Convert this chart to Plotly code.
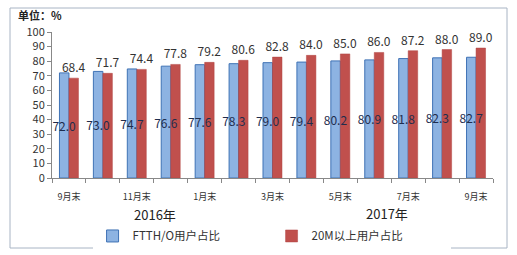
import plotly.graph_objects as go

categories = ["2016-09", "2016-10", "2016-11", "2016-12", "2017-01", "2017-02", "2017-03",
              "2017-04", "2017-05", "2017-06", "2017-07", "2017-08", "2017-09"]
tick_labels = ["9月末", "", "11月末", "", "1月末", "", "3月末", "", "5月末", "", "7月末", "", "9月末"]
ftth = [72.0, 73.0, 74.7, 76.6, 77.6, 78.3, 79.0, 79.4, 80.2, 80.9, 81.8, 82.3, 82.7]
m20 = [68.4, 71.7, 74.4, 77.8, 79.2, 80.6, 82.8, 84.0, 85.0, 86.0, 87.2, 88.0, 89.0]
series_names = ["FTTH/O用户占比", "20M以上用户占比"]
year_labels = ["2016年", "2017年"]
unit_label = "单位：%"

FONT = "Noto Sans CJK SC"

fig = go.Figure()
fig.add_trace(go.Bar(
    x=categories, y=ftth, name=series_names[0], offsetgroup="a",
    marker=dict(color="#8DB3E2", line=dict(color="#3F72B5", width=1)),
))
fig.add_trace(go.Bar(
    x=categories, y=m20, name=series_names[1], offsetgroup="b",
    marker=dict(color="#C0504D", line=dict(color="#B04542", width=0.5)),
    text=[f"{v:.1f}" for v in m20], textposition="outside",
    textangle=0, constraintext="none", cliponaxis=False,
    textfont=dict(family=FONT, size=12, color="#333333"),
))
# transparent copy of the FTTH bars, drawn last so its centred labels sit on top
fig.add_trace(go.Bar(
    x=categories, y=ftth, name=series_names[0], offsetgroup="a", showlegend=False,
    marker=dict(color="rgba(0,0,0,0)", line=dict(width=0)), hoverinfo="skip",
    text=[f"{v:.1f}" for v in ftth], textposition="inside", insidetextanchor="middle",
    textangle=0, constraintext="none",
    textfont=dict(family=FONT, size=12, color="#1F2D4D"),
))

fig.update_layout(
    width=517, height=255,
    margin=dict(l=52, r=24, t=32, b=77, autoexpand=False),
    paper_bgcolor="white", plot_bgcolor="white",
    barmode="group", bargap=0.44, bargroupgap=0,
    font=dict(family=FONT, color="#333333"),
    uniformtext=dict(minsize=12, mode="show"),
    showlegend=True,
    legend=dict(orientation="h", x=0.092, y=-0.397, xanchor="left", yanchor="middle",
                entrywidth=134, entrywidthmode="pixels",
                font=dict(family=FONT, size=11.5, color="#333333"),
                itemwidth=30, traceorder="normal"),
    xaxis=dict(type="category", tickmode="array", tickvals=categories, ticktext=tick_labels,
               tickson="boundaries", ticks="outside", ticklen=4, tickcolor="#888888",
               tickangle=0, ticklabelstandoff=10,
               showline=True, linecolor="#888888", linewidth=1,
               tickfont=dict(family=FONT, size=9, color="#333333"), showgrid=False),
    yaxis=dict(range=[0, 100], dtick=10, ticks="outside", ticklen=4, tickcolor="#888888",
               showline=True, linecolor="#888888", linewidth=1, showgrid=False,
               zeroline=False, tickfont=dict(family=FONT, size=11, color="#333333")),
)

fig.add_annotation(text=f"<b>{unit_label}</b>", xref="paper", yref="paper",
                   x=-0.082, y=1.115, xanchor="left", yanchor="middle", showarrow=False,
                   font=dict(family=FONT, size=11, color="#222222"))
fig.add_annotation(text=year_labels[0], xref="paper", yref="paper",
                   x=0.2336, y=-0.253, xanchor="center", yanchor="middle", showarrow=False,
                   font=dict(family=FONT, size=13, color="#222222"))
fig.add_annotation(text=year_labels[1], xref="paper", yref="paper",
                   x=0.7596, y=-0.24, xanchor="center", yanchor="middle", showarrow=False,
                   font=dict(family=FONT, size=13, color="#222222"))

fig.add_shape(type="rect", xref="paper", yref="paper",
              x0=(10 - 52) / 441, x1=(507 - 52) / 441,
              y0=(178 - 248) / 146, y1=(178 - 8) / 146,
              line=dict(color="#A8B4C4", width=1), fillcolor="rgba(0,0,0,0)", layer="below")

fig.write_html("out.html")
